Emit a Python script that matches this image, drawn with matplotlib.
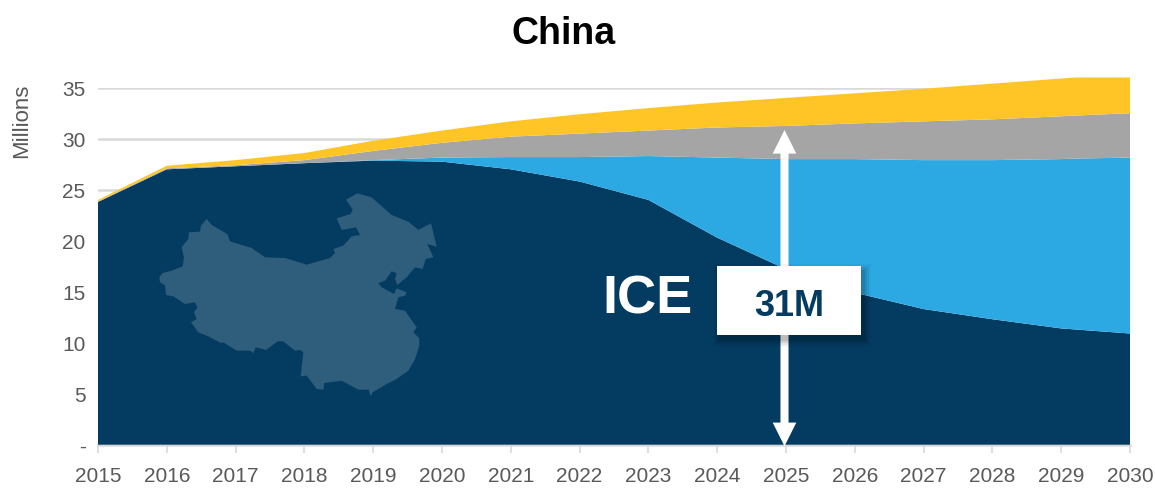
import matplotlib
matplotlib.use("Agg")
import matplotlib.pyplot as plt
from matplotlib.patches import FancyArrowPatch, Polygon, Rectangle
from matplotlib.transforms import Affine2D

# Fleet size in millions, one value per model year (plus the 2029 plateau point)
years = [2015, 2016, 2017, 2018, 2019, 2020, 2021, 2022, 2023, 2024, 2025, 2026, 2027, 2028, 2029, 2029.2, 2030]
ice = [23.8, 27.0, 27.3, 27.6, 27.85, 27.75, 27.0, 25.8, 24.0, 20.3, 17.2, 14.9, 13.3, 12.3, 11.4, 11.3, 10.9]
bev = [0.0, 0.0, 0.0, 0.0, 0.05, 0.4, 1.2, 2.4, 4.3, 7.85, 10.8, 13.1, 14.6, 15.6, 16.6, 16.75, 17.25]
phev = [0.05, 0.1, 0.1, 0.3, 0.9, 1.45, 2.0, 2.3, 2.5, 2.95, 3.25, 3.5, 3.8, 4.0, 4.2, 4.22, 4.35]
hev = [0.15, 0.25, 0.5, 0.7, 1.0, 1.2, 1.5, 1.9, 2.2, 2.45, 2.75, 2.95, 3.2, 3.5, 3.7, 3.73, 3.5]
series_colors = ["#043c61", "#2ca9e3", "#a5a5a5", "#ffc526"]

x_ticks = list(range(2015, 2031))
y_ticks = [0, 5, 10, 15, 20, 25, 30, 35]
y_labels = ["-", "5", "10", "15", "20", "25", "30", "35"]
ice_total = 31

W, H = 1155, 489
plt.rcParams["font.family"] = ["Liberation Sans"]

fig = plt.figure(figsize=(W / 100, H / 100), dpi=100)
ax = fig.add_axes([98 / W, 1 - 445.7 / H, (1130 - 98) / W, (445 - 88) / H])
ax.set_xlim(2015, 2030)
ax.set_ylim(0, 35)

ax.yaxis.grid(True, color="#d9d9d9", lw=1.8, zorder=0)
ax.set_axisbelow(True)
ax.stackplot(years, ice, bev, phev, hev, colors=series_colors, lw=0, zorder=2, clip_on=False)

for side in ["top", "right", "left"]:
    ax.spines[side].set_visible(False)
ax.spines["bottom"].set_color("#d9d9d9")
ax.spines["bottom"].set_linewidth(1.8)
ax.spines["bottom"].set_zorder(1)

ax.set_xticks(x_ticks)
ax.tick_params(axis="x", length=6, width=1.2, color="#d9d9d9", labelsize=15, labelcolor="#595959", pad=9)
ax.set_yticks(y_ticks, y_labels)
ax.tick_params(axis="y", length=0, labelsize=15, labelcolor="#595959", pad=9)

fig.text(22 / W, 1 - 121 / H, "Millions", rotation=90, fontsize=16, color="#595959", ha="center", va="center")
fig.text(564 / W, 1 - 44 / H, "China", fontsize=27, fontweight="bold", color="black", ha="center", va="baseline")

# Pixel-space transform for the decorative overlay (origin top-left)
px = Affine2D().scale(1, -1).translate(0, H)

# Silhouette of China, traced in a 3x grid anchored at (140, 180)
outline = [
    (58,295),(68,282),(95,275),(128,262),(132,235),(125,205),(145,180),(147,160),(180,158),(183,140),
    (200,120),(215,138),(262,165),(270,187),(335,207),(375,235),(435,237),(500,257),(570,237),(585,222),
    (580,210),(610,200),(635,172),(660,168),(648,145),(605,153),(590,118),(632,105),(638,92),(618,62),
    (652,43),(695,55),(755,108),(805,128),(835,153),(873,133),(890,203),(862,195),(880,235),(857,240),
    (848,270),(825,265),(800,295),(772,318),(765,300),(770,283),(755,277),(735,305),(715,312),(725,325),
    (762,345),(770,328),(800,340),(795,350),(775,355),(765,390),(795,395),(830,445),(820,460),(838,478),
    (838,500),(825,540),(805,575),(770,600),(740,615),(698,640),(692,652),(686,632),(655,632),(605,605),
    (553,612),(550,632),(530,630),(500,590),(482,592),(490,520),(480,513),(465,515),(430,487),(413,487),
    (378,513),(347,505),(340,522),(330,515),(290,515),(250,490),(243,492),(205,472),(175,460),(153,430),
    (170,420),(162,400),(172,385),(165,370),(135,375),(100,352),(78,348),(75,318),(60,310),
]
map_xy = [(140 + u / 3, 180 + v / 3) for u, v in outline]
fig.add_artist(Polygon(map_xy, closed=True, transform=px, facecolor="#2f5d7c", edgecolor="none", zorder=4))

# Double-headed arrow spanning zero to the ICE total, nudged slightly off the tick
arrow_style = "simple,head_length=17,head_width=17,tail_width=5.8"
arrow_shift = ax.transData + Affine2D().translate(-1.5, -1.5)
for end in (0, ice_total):
    ax.add_patch(FancyArrowPatch((2025, 15), (2025, end), arrowstyle=arrow_style, mutation_scale=1,
                                 shrinkA=0, shrinkB=0, facecolor="white", edgecolor="none", lw=0,
                                 transform=arrow_shift, zorder=5, clip_on=False))

# Callout box with a soft drop shadow
bx0, by0, bw, bh = 717, 267, 144, 69
for grow, alpha in [(7, 0.04), (5, 0.06), (3, 0.08), (1, 0.10)]:
    fig.add_artist(Rectangle((bx0 + 3 - grow, by0 + 5 - grow), bw + 2 * grow, bh + 2 * grow, transform=px,
                             facecolor="black", alpha=alpha, edgecolor="none", zorder=6))
fig.add_artist(Rectangle((bx0, by0), bw, bh, transform=px, facecolor="white", edgecolor="none", zorder=7))
fig.text(789 / W, 1 - 316 / H, f"{ice_total}M", fontsize=26, fontweight="bold", color="#043c61",
         ha="center", va="baseline", zorder=8)
fig.text(647 / W, 1 - 314 / H, "ICE", fontsize=39, fontweight="bold", color="white",
         ha="center", va="baseline", zorder=8)

fig.savefig("out.png", dpi=100)
